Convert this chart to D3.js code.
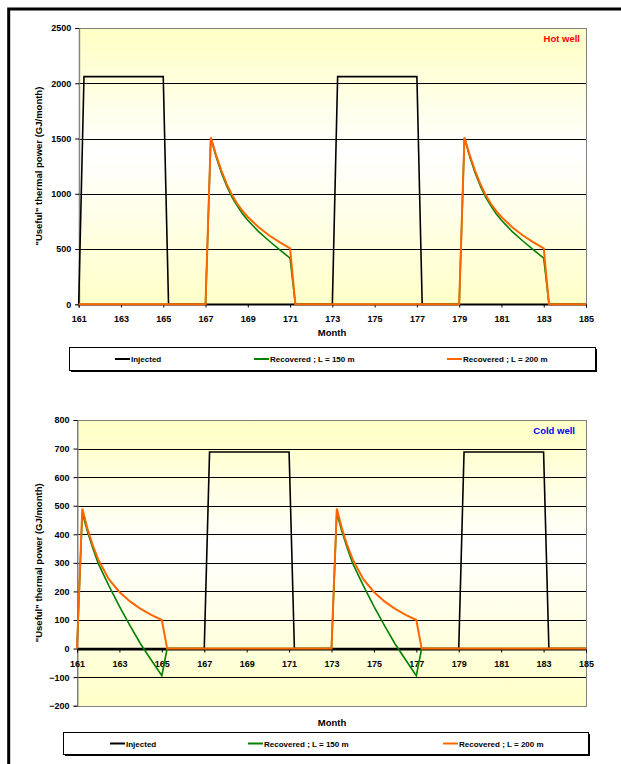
<!DOCTYPE html>
<html>
<head>
<meta charset="utf-8">
<script src="https://cdnjs.cloudflare.com/ajax/libs/d3/7.8.5/d3.min.js"></script>
<style>
  body { margin: 0; background: #fff; }
  svg { display: block; font-family: "Liberation Sans", Arial, sans-serif; font-weight: bold; }
</style>
</head>
<body>
<script>
// ---- data ----
var seriesNames = ["Injected", "Recovered ; L = 150 m", "Recovered ; L = 200 m"];
var seriesColors = ["#000000", "#008000", "#FF6600"];
var xTicks = [161, 163, 165, 167, 169, 171, 173, 175, 177, 179, 181, 183, 185];

var hotMonths = [161, 161.25, 165, 165.25, 167,
  167.25, 167.5, 167.75, 168, 168.25, 168.5, 168.75, 169, 169.5, 170, 170.5, 171,
  171.25, 173, 173.25, 177, 177.25, 179,
  179.25, 179.5, 179.75, 180, 180.25, 180.5, 180.75, 181, 181.5, 182, 182.5, 183,
  183.25, 185];
var hotInjected = [0, 2060, 2060, 0, 0,
  0, 0, 0, 0, 0, 0, 0, 0, 0, 0, 0, 0,
  0, 0, 2060, 2060, 0, 0,
  0, 0, 0, 0, 0, 0, 0, 0, 0, 0, 0, 0,
  0, 0];
var hotRec150 = [0, 0, 0, 0, 0,
  1505, 1335, 1190, 1070, 970, 890, 820, 760, 660, 575, 495, 417,
  0, 0, 0, 0, 0, 0,
  1505, 1335, 1190, 1070, 970, 890, 820, 760, 660, 575, 495, 417,
  0, 0];
var hotRec200 = [0, 0, 0, 0, 0,
  1512, 1350, 1210, 1090, 990, 910, 845, 790, 700, 625, 562, 507,
  0, 0, 0, 0, 0, 0,
  1512, 1350, 1210, 1090, 990, 910, 845, 790, 700, 625, 562, 507,
  0, 0];
var hotYTicks = [0, 500, 1000, 1500, 2000, 2500];

var coldMonths = [161, 161.25, 161.5, 161.75, 162, 162.5, 163, 163.5, 164, 164.5, 165, 165.25,
  167, 167.25, 171, 171.25,
  173, 173.25, 173.5, 173.75, 174, 174.5, 175, 175.5, 176, 176.5, 177, 177.25,
  179, 179.25, 183, 183.25, 185];
var coldInjected = [0, 0, 0, 0, 0, 0, 0, 0, 0, 0, 0, 0,
  0, 688, 688, 0,
  0, 0, 0, 0, 0, 0, 0, 0, 0, 0, 0, 0,
  0, 688, 688, 0, 0];
var coldRec150 = [0, 475, 408, 350, 298, 220, 148, 80, 16, -40, -95, 0,
  0, 0, 0, 0,
  0, 475, 408, 350, 298, 220, 148, 80, 16, -40, -95, 0,
  0, 0, 0, 0, 0];
var coldRec200 = [0, 490, 418, 360, 312, 243, 198, 165, 139, 118, 100, 0,
  0, 0, 0, 0,
  0, 490, 418, 360, 312, 243, 198, 165, 139, 118, 100, 0,
  0, 0, 0, 0, 0];
var coldYTicks = [-200, -100, 0, 100, 200, 300, 400, 500, 600, 700, 800];

var svg = d3.select("body").append("svg").attr("width", 621).attr("height", 764);

// outer frame (right and bottom edges run off the page)
svg.append("path")
  .attr("d", "M8.7,770V9H630")
  .attr("fill", "none")
  .attr("stroke", "#000")
  .attr("stroke-width", 3);

var defs = svg.append("defs");
var grad = defs.append("linearGradient")
  .attr("id", "bg").attr("x1", 0).attr("y1", 0).attr("x2", 0).attr("y2", 1);
grad.append("stop").attr("offset", "0%").attr("stop-color", "#FFFFC4");
grad.append("stop").attr("offset", "45%").attr("stop-color", "#FFFFFF");
grad.append("stop").attr("offset", "100%").attr("stop-color", "#FFFFC8");

function drawChart(opt) {
  var x = d3.scaleLinear().domain([161, 185]).range([opt.left, opt.right]);
  var y = d3.scaleLinear().domain(opt.yDomain).range([opt.bottom, opt.top]);
  var g = svg.append("g");

  g.append("rect")
    .attr("x", opt.left).attr("y", opt.top)
    .attr("width", opt.right - opt.left).attr("height", opt.bottom - opt.top)
    .attr("fill", "url(#bg)");

  // grid lines
  g.selectAll(".grid")
    .data(opt.yTicks.slice(1, -1))
    .enter().append("line")
    .attr("x1", opt.left).attr("x2", opt.right)
    .attr("y1", function (d) { return Math.round(y(d)) + 0.5; })
    .attr("y2", function (d) { return Math.round(y(d)) + 0.5; })
    .attr("stroke", "#000").attr("stroke-width", 1);

  // plot border
  g.append("rect")
    .attr("x", opt.left + 0.5).attr("y", Math.round(opt.top) + 0.5)
    .attr("width", opt.right - opt.left).attr("height", Math.round(opt.bottom - opt.top))
    .attr("fill", "none").attr("stroke", "#808080");

  // y axis
  var yAxis = d3.axisLeft(y).tickValues(opt.yTicks).tickSize(4).tickPadding(4).tickFormat(d3.format("d"));
  var ya = g.append("g").attr("transform", "translate(" + (opt.left + 0.5) + ",0)").call(yAxis);
  ya.select(".domain").attr("stroke", "#808080");
  ya.selectAll(".tick line").attr("stroke", "#000");
  ya.selectAll("text").attr("font-size", 9).attr("font-family", null).attr("fill", "#000");

  // x axis at y = 0
  var x0 = Math.round(y(0)) + 0.5;
  var xAxis = d3.axisBottom(x).tickValues(xTicks).tickSize(3).tickPadding(8).tickFormat(d3.format("d"));
  var xa = g.append("g").attr("transform", "translate(0," + x0 + ")").call(xAxis);
  xa.select(".domain").attr("stroke", "#000");
  xa.selectAll(".tick line").attr("stroke", "#000");
  xa.selectAll("text").attr("font-size", 9).attr("font-family", null).attr("fill", "#000");

  // series
  var line = d3.line()
    .x(function (d) { return x(d[0]); })
    .y(function (d) { return y(d[1]); });
  var widths = [1.6, 1.6, 2];
  opt.series.forEach(function (vals, i) {
    var pts = opt.months.map(function (m, j) { return [m, vals[j]]; });
    g.append("path")
      .datum(pts)
      .attr("d", line)
      .attr("fill", "none")
      .attr("stroke", seriesColors[i])
      .attr("stroke-width", widths[i])
      .attr("stroke-linejoin", "miter");
  });

  // labels
  g.append("text")
    .attr("x", opt.tagX).attr("y", opt.top + 14)
    .attr("text-anchor", "end")
    .attr("font-size", 9.5)
    .attr("fill", opt.tagColor)
    .text(opt.tag);

  g.append("text")
    .attr("transform", "translate(42," + (opt.top + opt.bottom) / 2 + ") rotate(-90)")
    .attr("text-anchor", "middle")
    .attr("font-size", 9.5)
    .text('"Useful" thermal power (GJ/month)');

  g.append("text")
    .attr("x", 332).attr("y", opt.monthY)
    .attr("text-anchor", "middle")
    .attr("font-size", 9.5)
    .text("Month");

  // legend
  var lg = opt.legend;
  g.append("rect")
    .attr("x", lg.x + 2).attr("y", lg.y + 2)
    .attr("width", lg.w).attr("height", lg.h)
    .attr("fill", "#000");
  g.append("rect")
    .attr("x", lg.x + 0.5).attr("y", lg.y + 0.5)
    .attr("width", lg.w).attr("height", lg.h)
    .attr("fill", "#fff").attr("stroke", "#000");
  seriesNames.forEach(function (name, i) {
    var lx = lg.items[i];
    var ly = lg.y + lg.h / 2 + 0.5;
    g.append("line")
      .attr("x1", lx).attr("x2", lx + 15)
      .attr("y1", ly).attr("y2", ly)
      .attr("stroke", seriesColors[i]).attr("stroke-width", 2);
    g.append("text")
      .attr("x", lx + 16).attr("y", ly + 3)
      .attr("font-size", 8)
      .text(name);
  });
}

drawChart({
  left: 78.7, right: 586, top: 28, bottom: 304.3,
  yDomain: [0, 2500], yTicks: hotYTicks,
  months: hotMonths, series: [hotInjected, hotRec150, hotRec200],
  tag: "Hot well", tagColor: "#FF0000", tagX: 580,
  monthY: 336,
  legend: { x: 69, y: 347, w: 526, h: 23, items: [115, 254, 447] }
});

drawChart({
  left: 77, right: 586, top: 420, bottom: 705.7,
  yDomain: [-200, 800], yTicks: coldYTicks,
  months: coldMonths, series: [coldInjected, coldRec150, coldRec200],
  tag: "Cold well", tagColor: "#0000FF", tagX: 575,
  monthY: 726,
  legend: { x: 63, y: 732, w: 525, h: 22, items: [110, 248, 443] }
});
</script>
</body>
</html>
